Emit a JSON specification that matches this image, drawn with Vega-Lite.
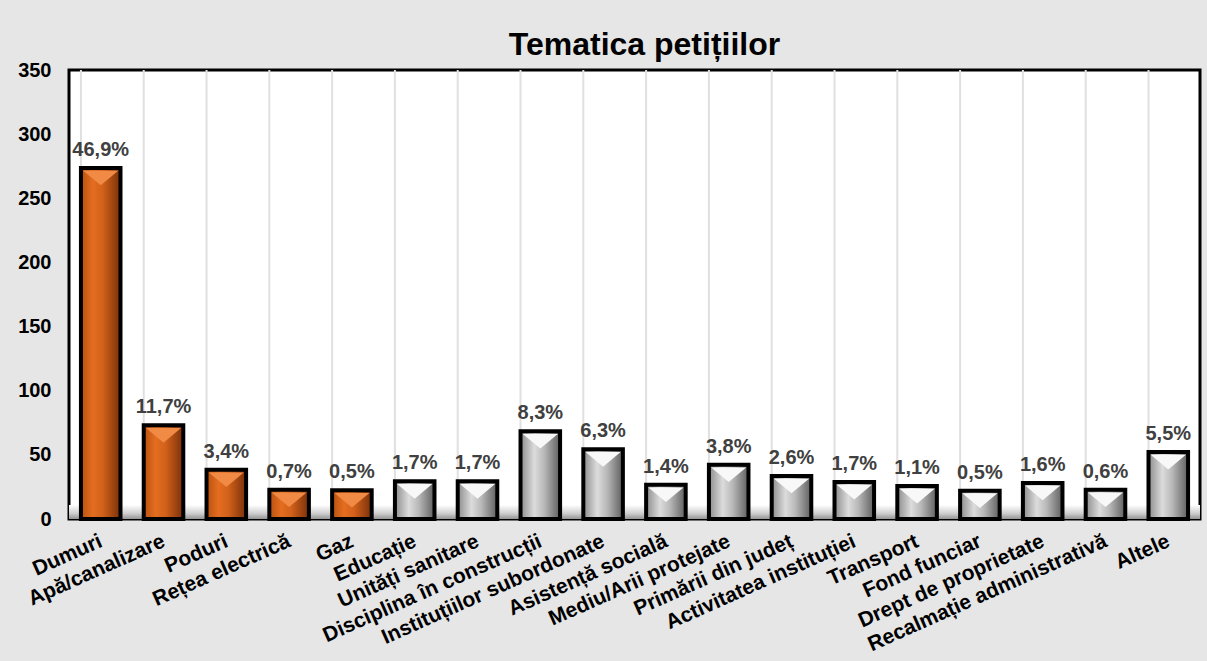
{
  "$schema": "https://vega.github.io/schema/vega-lite/v6.json",
  "width": 1131,
  "height": 449,
  "autosize": {"type": "none"},
  "padding": {"left": 69, "top": 70, "right": 7, "bottom": 142},
  "background": "#e6e6e6",
  "config": {
    "font": "Liberation Sans",
    "view": {"fill": "white", "stroke": "black", "strokeWidth": 3}
  },
  "title": {
    "text": "Tematica petițiilor",
    "font": "Liberation Sans",
    "fontSize": 32,
    "fontWeight": "bold",
    "color": "black",
    "anchor": "middle",
    "baseline": "alphabetic",
    "offset": -27,
    "dx": 10
  },
  "datasets": {
    "main": [
      {"tema": "Dumuri", "nr": 273.6, "pct": "46,9%", "grp": "o"},
      {"tema": "Apă/canalizare", "nr": 73.0, "pct": "11,7%", "grp": "o"},
      {"tema": "Poduri", "nr": 38.4, "pct": "3,4%", "grp": "o"},
      {"tema": "Rețea electrică", "nr": 22.8, "pct": "0,7%", "grp": "o"},
      {"tema": "Gaz", "nr": 22.4, "pct": "0,5%", "grp": "o"},
      {"tema": "Educație", "nr": 29.4, "pct": "1,7%", "grp": "g"},
      {"tema": "Unități sanitare", "nr": 29.4, "pct": "1,7%", "grp": "g"},
      {"tema": "Disciplina în construcții", "nr": 68.4, "pct": "8,3%", "grp": "g"},
      {"tema": "Instituțiilor subordonate", "nr": 54.3, "pct": "6,3%", "grp": "g"},
      {"tema": "Asistență socială", "nr": 26.7, "pct": "1,4%", "grp": "g"},
      {"tema": "Mediu/Arii protejate", "nr": 42.3, "pct": "3,8%", "grp": "g"},
      {"tema": "Primării din județ", "nr": 33.5, "pct": "2,6%", "grp": "g"},
      {"tema": "Activitatea instituției", "nr": 28.8, "pct": "1,7%", "grp": "g"},
      {"tema": "Transport", "nr": 25.7, "pct": "1,1%", "grp": "g"},
      {"tema": "Fond funciar", "nr": 22.1, "pct": "0,5%", "grp": "g"},
      {"tema": "Drept de proprietate", "nr": 28.1, "pct": "1,6%", "grp": "g"},
      {"tema": "Recalmație administrativă", "nr": 22.8, "pct": "0,6%", "grp": "g"},
      {"tema": "Altele", "nr": 52.2, "pct": "5,5%", "grp": "g"}
    ]
  },
  "data": {"name": "main"},
  "layer": [
    {
      "data": {"values": [{"a": 1}]},
      "mark": {
        "type": "rect",
        "fill": {"gradient": "linear", "x1": 0, "x2": 0, "y1": 0, "y2": 1,
          "stops": [{"offset": 0, "color": "#ffffff"}, {"offset": 0.6, "color": "#cfcfcf"}, {"offset": 1, "color": "#959595"}]}
      },
      "encoding": {
        "y": {"datum": 0, "type": "quantitative"},
        "y2": {"datum": 11}
      }
    },
    {
      "mark": {"type": "rule", "color": "#e0e0e0", "strokeWidth": 2},
      "encoding": {
        "x": {"field": "tema", "type": "nominal", "sort": null, "bandPosition": 0,
          "scale": {"paddingInner": 0.37, "paddingOuter": 0.19},
          "axis": {"title": null, "labelAngle": -24, "labelAlign": "right", "labelBaseline": "top",
            "labelFont": "Liberation Sans", "labelFontSize": 21, "labelFontWeight": "bold", "labelColor": "black",
            "labelPadding": 11, "labelOffset": -4, "labelLimit": 0, "labelOverlap": false, "ticks": false, "domain": false, "grid": false}}
      }
    },
    {
      "transform": [{"filter": "datum.grp === 'o'"}],
      "mark": {
        "type": "bar", "stroke": "black", "strokeWidth": 4,
        "fill": {"gradient": "linear", "x1": 0, "x2": 1, "y1": 0, "y2": 0,
          "stops": [{"offset": 0, "color": "#b8520f"}, {"offset": 0.3, "color": "#e46d20"}, {"offset": 0.55, "color": "#d2611a"}, {"offset": 1, "color": "#7a300a"}]}
      },
      "encoding": {
        "x": {"field": "tema", "type": "nominal", "sort": null},
        "y": {"field": "nr", "type": "quantitative",
          "scale": {"domain": [0, 350]},
          "axis": {"title": null, "values": [0, 50, 100, 150, 200, 250, 300, 350], "labelFont": "Liberation Sans",
            "labelFontSize": 20, "labelFontWeight": "bold", "labelColor": "black", "labelPadding": 18,
            "ticks": false, "domain": false, "grid": false}}
      }
    },
    {
      "transform": [{"filter": "datum.grp === 'g'"}],
      "mark": {
        "type": "bar", "stroke": "black", "strokeWidth": 4,
        "fill": {"gradient": "linear", "x1": 0, "x2": 1, "y1": 0, "y2": 0,
          "stops": [{"offset": 0, "color": "#8c8c8c"}, {"offset": 0.35, "color": "#dcdcdc"}, {"offset": 0.6, "color": "#b8b8b8"}, {"offset": 1, "color": "#5e5e5e"}]}
      },
      "encoding": {
        "x": {"field": "tema", "type": "nominal", "sort": null},
        "y": {"field": "nr", "type": "quantitative"}
      }
    },
    {
      "transform": [{"filter": "datum.grp === 'o'"}],
      "mark": {"type": "point", "shape": "M-1,-0.42L1,-0.42L0,0.42Z", "filled": true, "size": 1225, "color": "#f08a45", "opacity": 1, "strokeWidth": 0, "yOffset": 10},
      "encoding": {
        "x": {"field": "tema", "type": "nominal", "sort": null},
        "y": {"field": "nr", "type": "quantitative"}
      }
    },
    {
      "transform": [{"filter": "datum.grp === 'g'"}],
      "mark": {"type": "point", "shape": "M-1,-0.42L1,-0.42L0,0.42Z", "filled": true, "size": 1225, "color": "#f8f8f8", "opacity": 1, "strokeWidth": 0, "yOffset": 10},
      "encoding": {
        "x": {"field": "tema", "type": "nominal", "sort": null},
        "y": {"field": "nr", "type": "quantitative"}
      }
    },
    {
      "mark": {"type": "text", "font": "Liberation Sans", "fontSize": 20, "fontWeight": "bold", "color": "#404040", "baseline": "alphabetic", "dy": -12},
      "encoding": {
        "x": {"field": "tema", "type": "nominal", "sort": null},
        "y": {"field": "nr", "type": "quantitative"},
        "text": {"field": "pct"}
      }
    }
  ]
}
